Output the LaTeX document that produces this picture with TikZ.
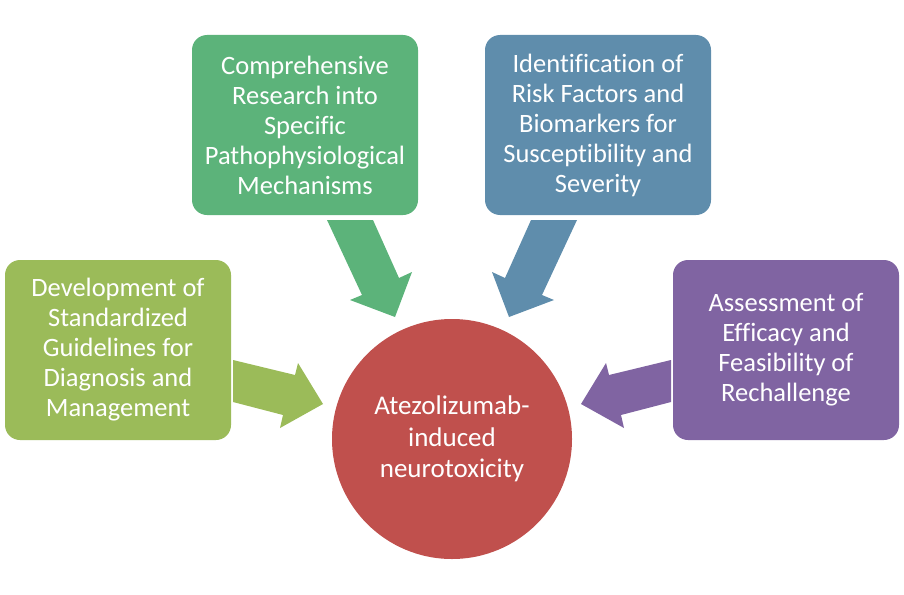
\documentclass[tikz,border=0pt]{standalone}
\usepackage{fontspec}
\setmainfont[Ligatures=NoCommon]{Carlito}
\definecolor{cgreen}{RGB}{92,179,122}
\definecolor{cblue}{RGB}{95,141,172}
\definecolor{colive}{RGB}{155,187,89}
\definecolor{cpurple}{RGB}{128,100,162}
\definecolor{cred}{RGB}{192,80,77}
\begin{document}
\begin{tikzpicture}[x=1pt,y=-1pt,
  box/.style={rounded corners=15pt,minimum width=226pt,minimum height=180pt,text=white,align=center,inner sep=0pt,
    font=\fontsize{26.5}{30}\selectfont}]
\useasboundingbox (0,0) rectangle (904,594);
% block arrows
\fill[cgreen] (327,220) -- (373,220) -- (399,278) -- (412,272) -- (395,317) -- (350,300) -- (362,295) -- cycle;
\fill[cblue] (577,220) -- (531,220) -- (505,278) -- (492,272) -- (509,317) -- (554,300) -- (542,295) -- cycle;
\fill[colive] (233,360) -- (295,375) -- (298,363) -- (323,404) -- (280,428) -- (283,415) -- (233,402) -- cycle;
\fill[cpurple] (671,360) -- (609,375) -- (606,363) -- (581,404) -- (624,428) -- (621,415) -- (671,402) -- cycle;
% boxes
\node[box,fill=cgreen] (g) at (305,125) {Comprehensive\\Research into\\Specific\\Pathophysiological\\Mechanisms};
\node[box,fill=cblue] (b) at (598,125) {Identification of\\Risk Factors and\\Biomarkers for\\Susceptibility and\\Severity};
\node[box,fill=colive] (l) at (118,350) {Development of\\Standardized\\Guidelines for\\Diagnosis and\\Management};
\node[box,fill=cpurple] (p) at (786,350) {Assessment of\\Efficacy and\\Feasibility of\\Rechallenge};
\node[circle,fill=cred,minimum size=240pt,inner sep=0pt,text=white,align=center,
  font=\fontsize{27}{31.5}\selectfont] (c) at (452,439) {Atezolizumab-\\induced\\neurotoxicity};
\end{tikzpicture}
\end{document}
